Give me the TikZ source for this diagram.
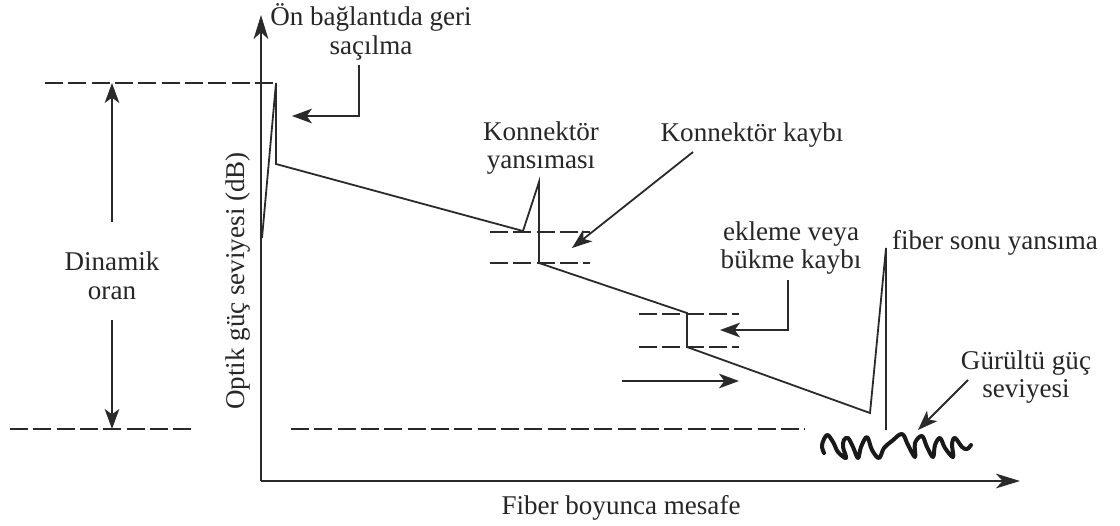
\documentclass[tikz,border=0pt]{standalone}
\usepackage{fontspec}
\setmainfont{Liberation Serif}
\usetikzlibrary{arrows.meta}
\definecolor{ink}{HTML}{2A2A2A}
\tikzset{
  trace/.style={draw=ink,line width=1.35pt},
  axis/.style={draw=ink,line width=1.5pt,-{Stealth[length=18pt,width=11pt,inset=5pt]}},
  lead/.style={draw=ink,line width=1.35pt,-{Stealth[length=15pt,width=11pt,inset=4pt]}},
  level/.style={draw=ink,line width=1.35pt,dash pattern=on 13.5pt off 4pt},
  lbl/.style={font=\fontsize{20.3pt}{21.4pt}\selectfont,text=black!85,align=center,inner sep=0pt},
}
\begin{document}
\begin{tikzpicture}[x=0.75pt,y=-0.75pt]
\useasboundingbox (0,0) rectangle (1120,525);
% axes
\coordinate (o) at (261,481);
\coordinate (ytop) at (261,15);
\coordinate (xend) at (1020,481);
\draw[axis] (o) -- (ytop);
\draw[axis] (o) -- (xend);
% trace
\coordinate (t0) at (262,238);
\coordinate (t1) at (276,83);
\coordinate (t2) at (276,164);
\coordinate (t3) at (523,231);
\coordinate (t4) at (539,182);
\coordinate (t5) at (539,263);
\coordinate (t6) at (687,313);
\coordinate (t7) at (687,347);
\coordinate (t8) at (870,413);
\coordinate (t9) at (886,248);
\coordinate (t10) at (886,430);
\draw[trace,line join=miter] (t0) -- (t1) -- (t2) -- (t3) -- (t4) -- (t5) -- (t6) -- (t7) -- (t8) -- (t9) -- (t10);
% levels
\coordinate (a1) at (45,83); \coordinate (a2) at (274,83);
\coordinate (b1) at (10,429); \coordinate (b2) at (193,429);
\coordinate (c1) at (291,429); \coordinate (c2) at (805,429);
\coordinate (d1) at (490,232); \coordinate (d2) at (590,232);
\coordinate (e1) at (490,263); \coordinate (e2) at (590,263);
\coordinate (f1) at (639,314); \coordinate (f2) at (739,314);
\coordinate (g1) at (639,347); \coordinate (g2) at (739,347);
\foreach \p/\q in {a1/a2,b1/b2,c1/c2,d1/d2,e1/e2,f1/f2,g1/g2}
  \draw[level] (\p) -- (\q);
% labels
\node[lbl] (lon) at (371,32) {Ön bağlantıda geri\\saçılma};
\node[lbl] (lyans) at (541,148) {Konnektör\\yansıması};
\node[lbl,anchor=base] (lkayb) at (752,141) {Konnektör kaybı};
\node[lbl] (lekl) at (791,248) {ekleme veya\\bükme kaybı};
\node[lbl,anchor=base] (lson) at (995,249) {fiber sonu yansıma};
\node[lbl] (lgur) at (1026,377) {Gürültü güç\\seviyesi};
\node[lbl] (ldin) at (112,276) {Dinamik\\oran};
\node[lbl,rotate=90] (ly) at (238,281) {Optik güç seviyesi (dB)};
\node[lbl,anchor=base] (lx) at (621,514) {Fiber boyunca mesafe};
% dynamic range
\coordinate (dtop) at (112,83);
\coordinate (dbot) at (112,429);
\coordinate (dfrom1) at (112,222);
\coordinate (dfrom2) at (112,320);
\draw[lead] (dfrom1) -- (dtop);
\draw[lead] (dfrom2) -- (dbot);
% leaders
\coordinate (k1) at (359,65); \coordinate (k2) at (359,116); \coordinate (k3) at (292,116);
\draw[lead] (k1) -- (k2) -- (k3);
\coordinate (m1) at (693,152); \coordinate (m2) at (572,248);
\draw[lead] (m1) -- (m2);
\coordinate (n1) at (788,280); \coordinate (n2) at (788,330); \coordinate (n3) at (720,330);
\draw[lead] (n1) -- (n2) -- (n3);
\coordinate (r1) at (622,381); \coordinate (r2) at (739,381);
\draw[lead] (r1) -- (r2);
\coordinate (s1) at (968,380); \coordinate (s2) at (918,430);
\draw[lead] (s1) -- (s2);
% noise
\draw[draw=black!90,line width=3pt,line cap=round,line join=round]
  plot[smooth,tension=0.6] coordinates {(824,453) (822,445) (827,435) (833,442) (838,452) (846,458)
  (843,447) (844,440) (848,438) (853,447) (858,458) (861,447) (867,437) (872,450) (879,458)
  (884,448) (892,441) (902,434) (908,445) (915,457) (915,443) (922,436) (927,447) (933,457)
  (935,445) (940,438) (945,448) (953,457) (952,444) (955,438) (962,447) (967,449) (971,445)};
\end{tikzpicture}
\end{document}
